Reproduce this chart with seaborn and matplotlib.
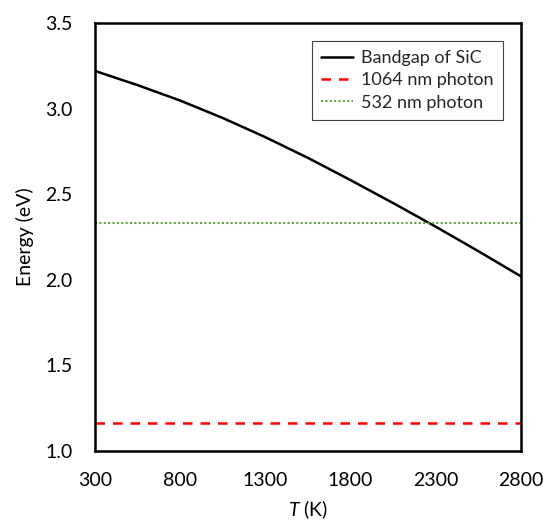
import matplotlib
matplotlib.use("Agg")
import matplotlib.pyplot as plt
import seaborn as sns
import pandas as pd

# Temperature-dependent bandgap of SiC (K, eV)
temperature_k = [300, 550, 800, 1050, 1300, 1550, 1800, 2050, 2300, 2550, 2800]
bandgap_ev = [3.22, 3.137, 3.047, 2.945, 2.833, 2.712, 2.582, 2.448, 2.310, 2.167, 2.020]

# Photon energies of the laser lines (eV)
photon_1064_ev = 1.165
photon_532_ev = 2.33

x_ticks = [300, 800, 1300, 1800, 2300, 2800]
y_ticks = [1.0, 1.5, 2.0, 2.5, 3.0, 3.5]

sns.set_theme(style="white")
plt.rcParams["font.family"] = ["Lato", "DejaVu Sans"]
plt.rcParams["mathtext.fontset"] = "custom"
plt.rcParams["mathtext.it"] = "Lato:italic"
plt.rcParams["mathtext.rm"] = "Lato"

gap_df = pd.DataFrame({"T": temperature_k, "E": bandgap_ev})
t_span = [temperature_k[0], temperature_k[-1]]
ir_df = pd.DataFrame({"T": t_span, "E": [photon_1064_ev] * 2})
green_df = pd.DataFrame({"T": t_span, "E": [photon_532_ev] * 2})

fig = plt.figure(figsize=(5.44, 5.24), dpi=100)
ax = fig.add_axes([95 / 544, 1 - 451 / 524, 426 / 544, 428 / 524])

sns.lineplot(data=gap_df, x="T", y="E", ax=ax, color="black", lw=1.8,
             label="Bandgap of SiC")
sns.lineplot(data=ir_df, x="T", y="E", ax=ax, color="#FF0000", lw=1.8,
             label="1064 nm photon")
ax.lines[-1].set_dashes((3.8, 3.2))
sns.lineplot(data=green_df, x="T", y="E", ax=ax, color="#62A23F", lw=1.5,
             label="532 nm photon")
ax.lines[-1].set_dashes((1, 1.1))

ax.set_xlim(300, 2800)
ax.set_ylim(1.0, 3.5)
ax.set_xticks(x_ticks)
ax.set_yticks(y_ticks)
ax.set_yticklabels([f"{v:.1f}" for v in y_ticks])
ax.tick_params(axis="both", direction="in", length=5, width=1, color="black",
               labelsize=14, labelcolor="black")
ax.tick_params(axis="y", pad=16)
ax.tick_params(axis="x", pad=15)

for side in ["left", "right", "top", "bottom"]:
    ax.spines[side].set_visible(True)
    ax.spines[side].set_color("black")
    ax.spines[side].set_linewidth(1.8)

ax.set_xlabel("$T$ (K)", fontsize=14, color="black", labelpad=7)
ax.set_ylabel("Energy (eV)", fontsize=14, color="black", labelpad=8)

leg = ax.legend(loc="upper right", fontsize=13, frameon=True, fancybox=False,
                framealpha=1, edgecolor="#404040", borderaxespad=1.0,
                handlelength=1.8, handletextpad=0.45, borderpad=0.5,
                labelspacing=0.35)
leg.get_frame().set_linewidth(0.8)

fig.savefig("out.png", dpi=100)
